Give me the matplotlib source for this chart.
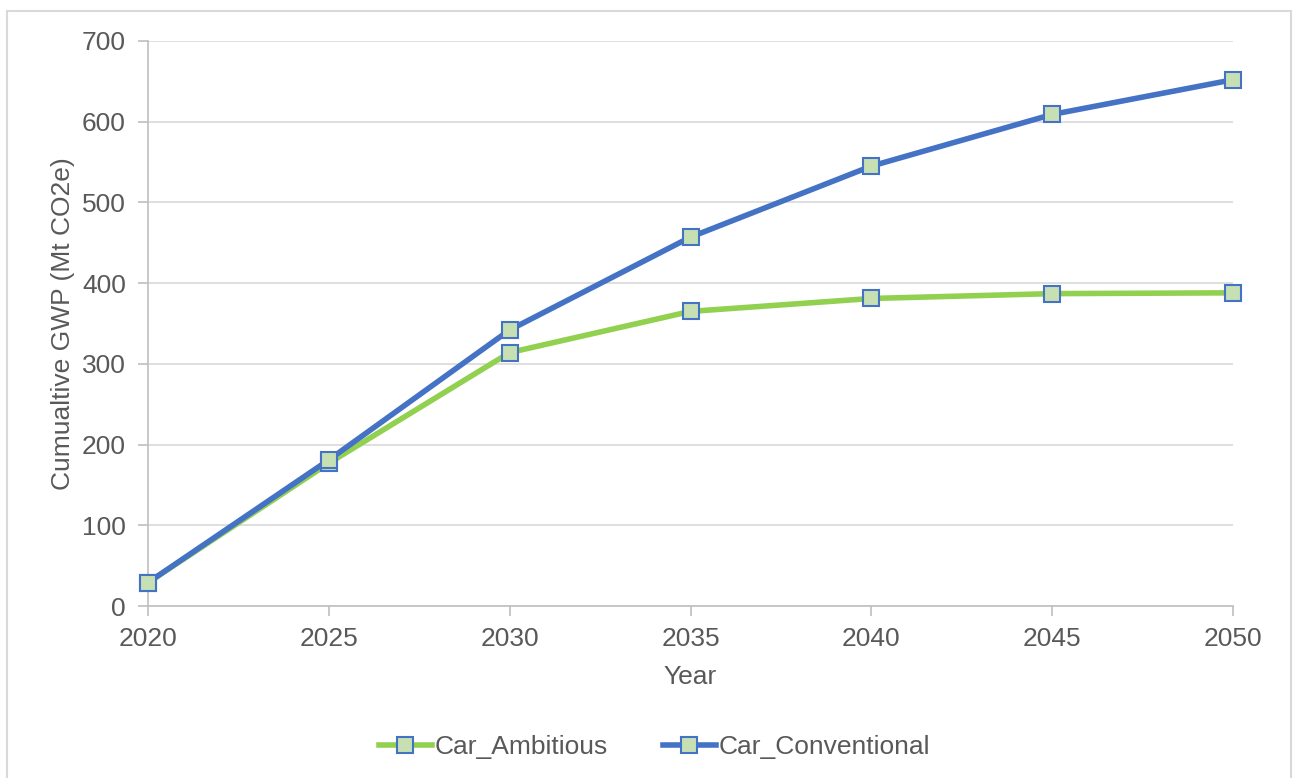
import matplotlib.pyplot as plt
from matplotlib.patches import Rectangle

# --- Data ---
years = [2020, 2025, 2030, 2035, 2040, 2045, 2050]
car_ambitious = [29, 177, 314, 365, 381, 387, 388]
car_conventional = [29, 181, 342, 457, 545, 609, 652]

W, H = 1293, 778
TEXT = '#595959'
GRID = '#d9d9d9'

plt.rcParams['font.family'] = ['Liberation Sans', 'DejaVu Sans']

fig = plt.figure(figsize=(W / 100, H / 100), dpi=100)
ax = fig.add_axes([148 / W, 1 - 606 / H, (1233 - 148) / W, (606 - 41) / H])

# outer chart frame
fig.patches.append(Rectangle((7 / W, -0.1), (1291 - 7) / W, 1.1 - 11 / H,
                             transform=fig.transFigure, fill=False,
                             edgecolor=GRID, linewidth=1.5))

marker_style = dict(marker='s', markersize=11, markerfacecolor='#c6e0b4',
                    markeredgecolor='#4472c4', markeredgewidth=1.5)
ax.plot(years, car_ambitious, color='#92d050', linewidth=4,
        label='Car_Ambitious', zorder=3, clip_on=False, **marker_style)
ax.plot(years, car_conventional, color='#4472c4', linewidth=4,
        label='Car_Conventional', zorder=4, clip_on=False, **marker_style)

ax.set_xlim(2020, 2050)
ax.set_ylim(0, 700)
ax.set_xticks(years)
ax.set_yticks(range(0, 701, 100))
ax.grid(axis='y', color=GRID, linewidth=1.2)
ax.set_axisbelow(True)

for side in ['top', 'right']:
    ax.spines[side].set_visible(False)
for side in ['left', 'bottom']:
    ax.spines[side].set_color('#bfbfbf')
    ax.spines[side].set_linewidth(1.2)

ax.tick_params(axis='both', colors='#bfbfbf', labelcolor=TEXT,
               labelsize=19, length=7, width=1.2)
ax.tick_params(axis='y', pad=9)
ax.tick_params(axis='x', pad=8)

ax.set_xlabel('Year', fontsize=19, color=TEXT, labelpad=10)
ax.set_ylabel('Cumualtive GWP (Mt CO2e)', fontsize=19, color=TEXT, labelpad=5)

leg = fig.legend(loc='center', bbox_to_anchor=(0.506, 1 - 747 / H), ncol=2,
                 frameon=False, fontsize=19, handlelength=2.0,
                 handletextpad=0.1, columnspacing=2.1)
for t in leg.get_texts():
    t.set_color(TEXT)

fig.savefig('out.png', dpi=100)
